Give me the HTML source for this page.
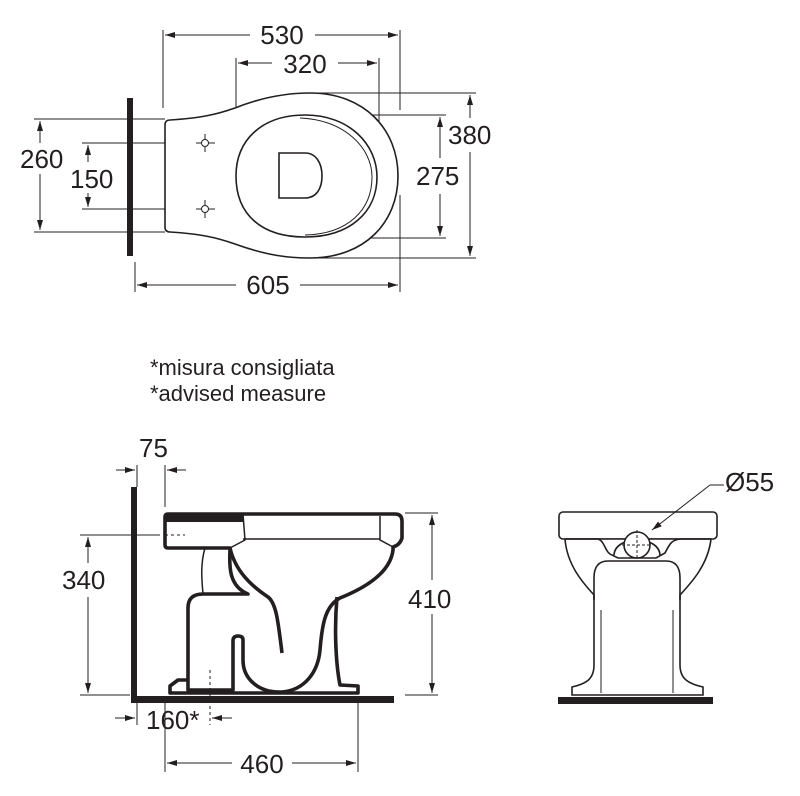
<!DOCTYPE html>
<html><head><style>
html,body{margin:0;padding:0;background:#fff;}
svg{display:block;}
text{font-family:"Liberation Sans",Arial,sans-serif;fill:#231f20;}
</style></head><body>
<svg width="800" height="796" viewBox="0 0 800 796" xmlns="http://www.w3.org/2000/svg">
<defs>
<marker id="a" viewBox="0 0 10 6" refX="10" refY="3" markerWidth="10" markerHeight="6" orient="auto-start-reverse" markerUnits="userSpaceOnUse"><path d="M0,0 L10,3 L0,6 Z" fill="#231f20"/></marker>
</defs>
<g stroke="#231f20" stroke-width="1" fill="none">
<line x1="163" y1="30" x2="163" y2="108"/><line x1="400" y1="30" x2="400" y2="110"/>
<line x1="400" y1="195" x2="400" y2="292"/>
<line x1="165" y1="35" x2="250" y2="35" marker-start="url(#a)"/><line x1="315" y1="35" x2="398" y2="35" marker-end="url(#a)"/>
<line x1="236" y1="58" x2="236" y2="155"/><line x1="379" y1="58" x2="379" y2="160"/>
<line x1="238" y1="63" x2="272" y2="63" marker-start="url(#a)"/><line x1="338" y1="63" x2="377" y2="63" marker-end="url(#a)"/>
<line x1="310" y1="93" x2="476" y2="93"/><line x1="310" y1="258" x2="476" y2="258"/>
<line x1="470" y1="95" x2="470" y2="118" marker-start="url(#a)"/><line x1="470" y1="152" x2="470" y2="256" marker-end="url(#a)"/>
<line x1="300" y1="115" x2="446" y2="115"/><line x1="300" y1="238" x2="446" y2="238"/>
<line x1="440" y1="117" x2="440" y2="158" marker-start="url(#a)"/><line x1="440" y1="194" x2="440" y2="236" marker-end="url(#a)"/>
<line x1="34" y1="119" x2="165" y2="119"/><line x1="34" y1="232" x2="165" y2="232"/>
<line x1="40" y1="121" x2="40" y2="143" marker-start="url(#a)"/><line x1="40" y1="174" x2="40" y2="230" marker-end="url(#a)"/>
<line x1="82" y1="143" x2="190" y2="143"/><line x1="82" y1="209" x2="190" y2="209"/>
<line x1="88" y1="145" x2="88" y2="162" marker-start="url(#a)"/><line x1="88" y1="193" x2="88" y2="207" marker-end="url(#a)"/>
<line x1="135" y1="262" x2="135" y2="292"/>
<line x1="137" y1="285" x2="236" y2="285" marker-start="url(#a)"/><line x1="300" y1="285" x2="398" y2="285" marker-end="url(#a)"/>
</g>
<rect x="127" y="98" width="6" height="158" fill="#231f20"/>
<g stroke="#231f20" stroke-width="1.6" fill="#fff">
<path d="M170,120 C200,118 215,115 235,108 C265,96 290,93 310,93 C365,93 398,130 398,176 C398,222 365,258 310,258 C290,258 268,256 235,244 C215,237 200,234 170,232 Q165,232 165,227 L165,125 Q165,120 170,120 Z"/>
<path d="M305,115 C350,115 377,145 377,177 C377,212 350,237 305,237 C262,237 236,215 236,176 C236,140 262,115 305,115 Z"/>
<path d="M300,118 C345,120 372,148 372,177 C372,210 348,234 305,235" fill="none" stroke-width="1"/>
<path d="M279,153 L305,153 C316,153 322,163 322,176 C322,189 316,198 305,198 L279,198 L279,153 Z"/>
</g>
<g stroke="#231f20" stroke-width="1" fill="#fff">
<line x1="196" y1="143" x2="215" y2="143"/><line x1="205" y1="134" x2="205" y2="152"/>
<line x1="196" y1="209" x2="215" y2="209"/><line x1="205" y1="200" x2="205" y2="218"/>
<circle cx="205" cy="143" r="3.5"/><circle cx="205" cy="209" r="3.5"/>
</g>
<g font-size="26">
<text x="282" y="44" text-anchor="middle">530</text>
<text x="305" y="73" text-anchor="middle">320</text>
<text x="448" y="144">380</text>
<text x="416" y="185">275</text>
<text x="20" y="168">260</text>
<text x="70" y="188">150</text>
<text x="268" y="294" text-anchor="middle">605</text>
<text x="150" y="375" font-size="22">*misura consigliata</text>
<text x="150" y="401" font-size="22">*advised measure</text>
<text x="139" y="457">75</text>
<text x="62" y="589">340</text>
<text x="408" y="608">410</text>
<text x="146" y="729">160*</text>
<text x="262" y="773" text-anchor="middle">460</text>
<text x="725" y="491">Ø55</text>
</g>
<g stroke="#231f20" stroke-width="1" fill="none">
<line x1="137" y1="465" x2="137" y2="487"/><line x1="165" y1="465" x2="165" y2="507"/>
<line x1="116" y1="470" x2="135" y2="470" marker-end="url(#a)"/><line x1="186" y1="470" x2="167" y2="470" marker-end="url(#a)"/>
<line x1="80" y1="535" x2="160" y2="535"/><line x1="165" y1="535" x2="185" y2="535" stroke-dasharray="3,3"/>
<line x1="80" y1="695" x2="130" y2="695"/>
<line x1="88" y1="537" x2="88" y2="563" marker-start="url(#a)"/><line x1="88" y1="597" x2="88" y2="693" marker-end="url(#a)"/>
<line x1="405" y1="513" x2="438" y2="513"/><line x1="405" y1="695" x2="438" y2="695"/>
<line x1="432" y1="515" x2="432" y2="580" marker-start="url(#a)"/><line x1="432" y1="614" x2="432" y2="693" marker-end="url(#a)"/>
<line x1="137" y1="703" x2="137" y2="725"/><line x1="210" y1="670" x2="210" y2="725" stroke-dasharray="3,3"/>
<line x1="115" y1="718" x2="135" y2="718" marker-end="url(#a)"/><line x1="232" y1="718" x2="212" y2="718" marker-end="url(#a)"/>
<line x1="165" y1="703" x2="165" y2="772"/><line x1="358" y1="700" x2="358" y2="772"/>
<line x1="167" y1="763" x2="232" y2="763" marker-start="url(#a)"/><line x1="292" y1="763" x2="356" y2="763" marker-end="url(#a)"/>
</g>
<rect x="131" y="487" width="6" height="216" fill="#231f20"/>
<rect x="131" y="696" width="263" height="7" fill="#231f20"/>
<g stroke="#231f20" stroke-width="3.6" fill="none" stroke-linejoin="round">
<path d="M168,514 L395,514 Q402,514 402,521 L402,538 Q400,545 393,547 L393,550 C390,575 360,590 340,598 C325,606 322,625 320,650 C318,672 305,690 282,692 C260,693 243,680 243,660 L243,640 Q243,636 238,636 Q233,636 233,641 L233,690 L188,690 L188,608 Q188,594 203,594 L248,594 C226,585 230,560 230,548 L168,548 Q165,548 165,545 L165,517 Q165,514 168,514 Z"/>
<path d="M230,548 C235,570 250,585 268,597 C276,603 278,620 282,653"/>
<path d="M337,597 C334,630 336,665 340,685 L358,686 L358,693 L170,693 L170,686 L178,680 L188,680"/>
</g>
<rect x="165" y="514" width="78" height="8" fill="#231f20"/>
<g stroke="#231f20" stroke-width="1.5" fill="none">
<line x1="243" y1="539" x2="380" y2="539"/>
<path d="M380,516 L380,540 L393,547"/>
<path d="M243,514 L245,540 L230,548"/>
<path d="M205,548 C200,565 202,582 203,594"/>
</g>
<!-- FRONT VIEW -->
<rect x="558" y="697" width="155" height="7" fill="#231f20"/>
<g stroke="#231f20" stroke-width="1.6" fill="#fff">
<rect x="559" y="512" width="158" height="27" rx="4"/>
<path d="M565,539 C567,565 583,583 594,595 L594,665 C594,680 585,684 572,687 L572,695 L703,695 L703,687 C690,684 680,680 680,665 L680,595 C691,583 708,565 711,539 Z"/>
<path d="M594,600 L594,578 Q594,561 608,561 L666,561 Q680,561 680,578 L680,600" fill="none"/>
<path d="M566,539 L598,539 C605,541 605,553 612,555 L618,558 L656,558 L665,553 C670,543 672,540 680,539 L710,539" fill="none"/>
<path d="M614,555 C615,535 659,535 660,555" fill="none"/>
<circle cx="637" cy="545" r="13"/>
<line x1="601" y1="610" x2="601" y2="693" stroke-width="1"/><line x1="673" y1="610" x2="673" y2="693" stroke-width="1"/>
</g>
<g stroke="#231f20" stroke-width="1" fill="none">
<line x1="622" y1="545" x2="652" y2="545" stroke-dasharray="3,2"/><line x1="637" y1="530" x2="637" y2="560" stroke-dasharray="3,2"/>
<line x1="724" y1="485" x2="710" y2="485"/><line x1="710" y1="485" x2="652" y2="530" marker-end="url(#a)"/>
</g>
</svg>
</body></html>
